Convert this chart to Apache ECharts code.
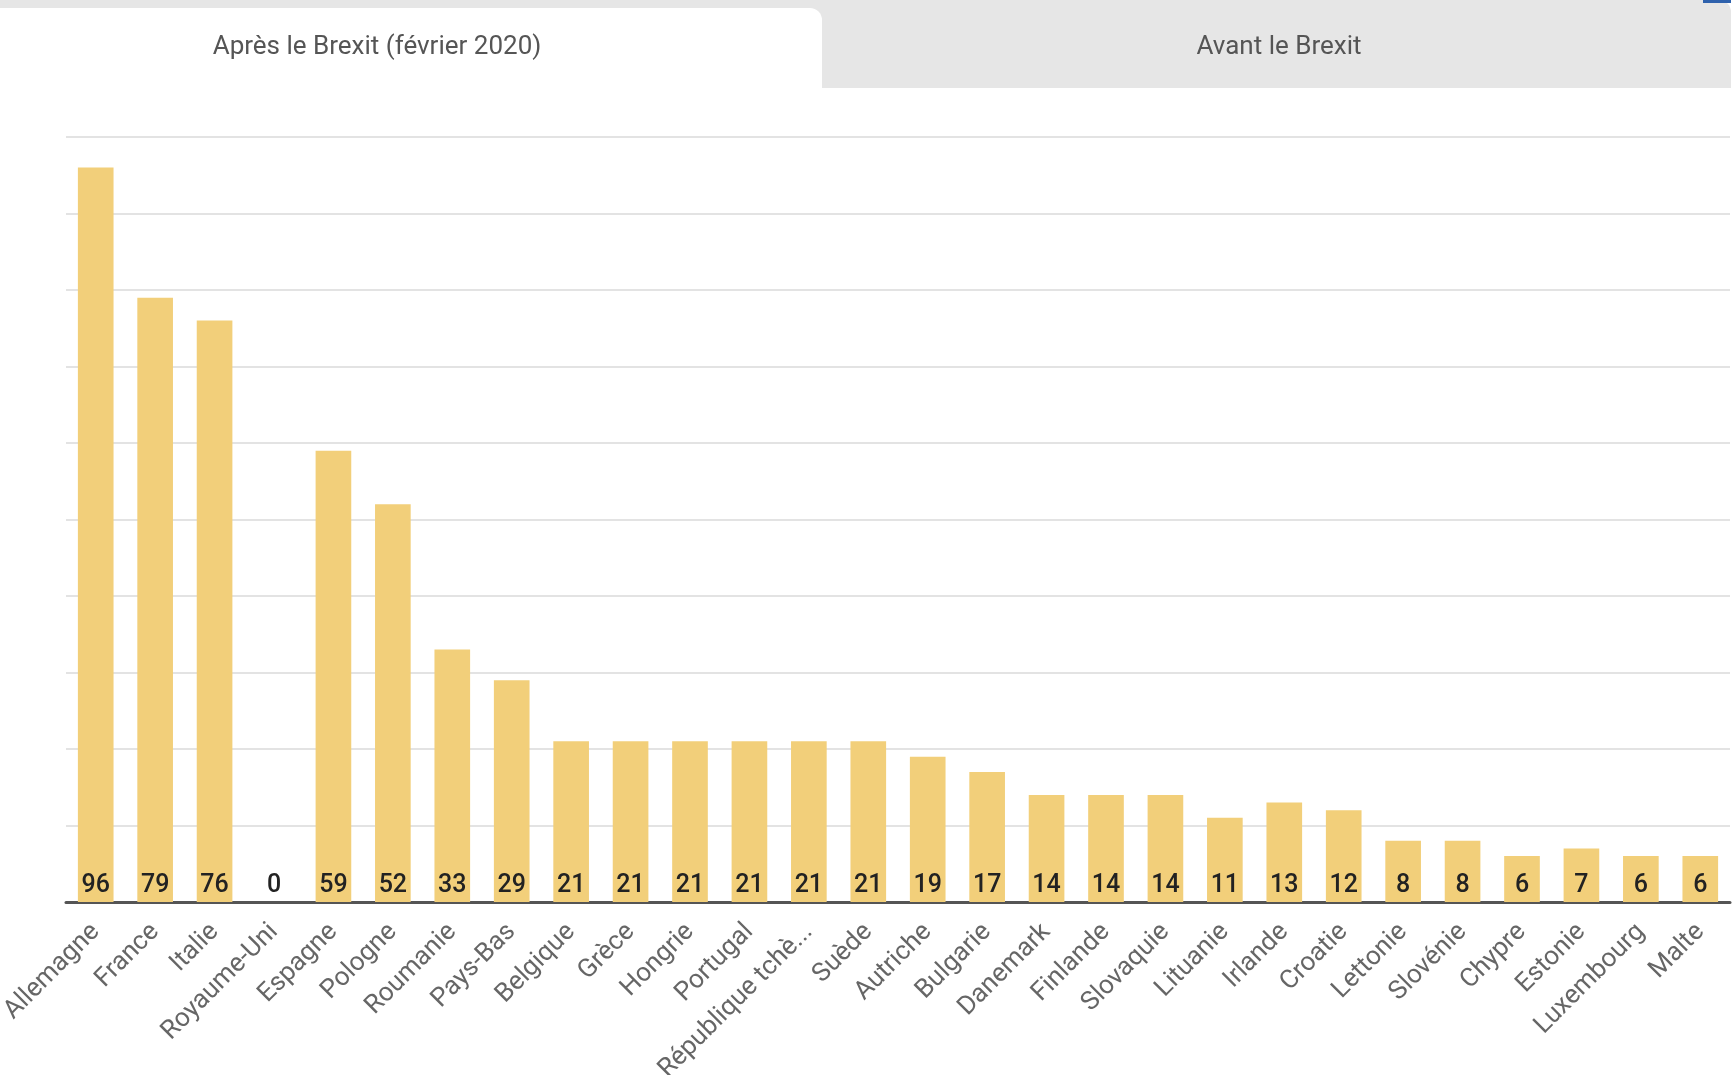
<!DOCTYPE html>
<html><head><meta charset="utf-8">
<script src="https://cdn.jsdelivr.net/npm/echarts@6/dist/echarts.min.js"></script>
<style>html,body{margin:0;padding:0;background:#fff;}#c{width:1734px;height:1075px;}</style>
</head><body><div id="c"></div>
<script>
const categories = ["Allemagne","France","Italie","Royaume-Uni","Espagne","Pologne","Roumanie","Pays-Bas","Belgique","Grèce","Hongrie","Portugal","République tchèque","Suède","Autriche","Bulgarie","Danemark","Finlande","Slovaquie","Lituanie","Irlande","Croatie","Lettonie","Slovénie","Chypre","Estonie","Luxembourg","Malte"];
const seats = [96,79,76,0,59,52,33,29,21,21,21,21,21,21,19,17,14,14,14,11,13,12,8,8,6,7,6,6];
const tabLabels = ["Après le Brexit (février 2020)","Avant le Brexit"];

const chart = echarts.init(document.getElementById('c'));
chart.setOption({
  animation:false,
  backgroundColor:'#fff',
  grid:{left:66,right:4,top:137,bottom:173,containLabel:false,outerBoundsMode:'none'},
  xAxis:{
    type:'category',data:categories,
    axisLine:{lineStyle:{color:'#555',width:3}},
    axisTick:{show:false},
    axisLabel:{rotate:45,interval:0,margin:26,color:'#666',fontFamily:'Roboto',fontSize:26,
      width:220,overflow:'truncate',ellipsis:'...'}
  },
  yAxis:{
    type:'value',min:0,max:100,interval:10,
    axisLabel:{show:false},axisLine:{show:false},axisTick:{show:false},
    splitLine:{lineStyle:{color:'#e3e3e3',width:2}}
  },
  series:[{
    type:'bar',data:seats,barCategoryGap:'40%',
    itemStyle:{color:'#f2cf7a'},
    label:{show:true,position:'insideBottom',distance:4,color:'#222',fontFamily:'Roboto',fontSize:25,fontWeight:500}
  }],
  graphic:[
    {type:'rect',shape:{x:0,y:0,width:1731,height:88,r:[0,12,0,0]},style:{fill:'#e6e6e6'},z:0},
    {type:'rect',shape:{x:0,y:8,width:822,height:84,r:[0,12,0,0]},style:{fill:'#ffffff'},z:1},
    {type:'rect',shape:{x:0,y:88,width:1734,height:6},style:{fill:'#ffffff'},z:1},
    {type:'rect',shape:{x:1703,y:0,width:28,height:3},style:{fill:'#2f62ad'},z:2},
    {type:'text',x:377,y:47,style:{text:tabLabels[0],fill:'#555',font:'26px Roboto',textAlign:'center',textVerticalAlign:'middle'},z:3},
    {type:'text',x:1279,y:47,style:{text:tabLabels[1],fill:'#555',font:'26px Roboto',textAlign:'center',textVerticalAlign:'middle'},z:3}
  ]
});
</script></body></html>
